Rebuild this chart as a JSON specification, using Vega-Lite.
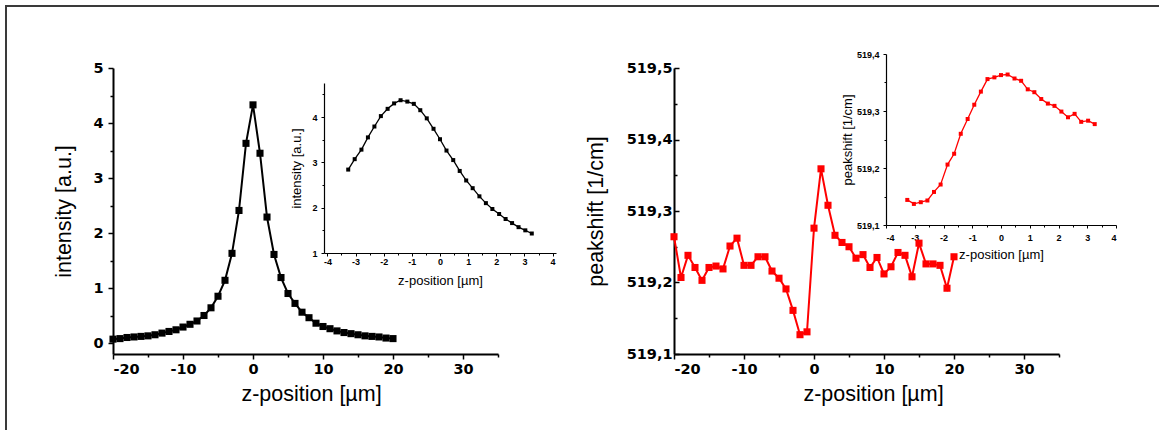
{
  "$schema": "https://vega.github.io/schema/vega-lite/v6.json",
  "width": 1160,
  "height": 430,
  "autosize": {"type": "none"},
  "padding": {"left": 6, "top": 6, "right": 0, "bottom": 0},
  "background": "#ffffff",
  "config": {
    "view": {"stroke": "#3a3a3a", "strokeWidth": 2},
    "font": "Liberation Sans",
    "axis": {"grid": false, "domainColor": "#000000", "tickColor": "#000000", "labelColor": "#000000", "titleColor": "#000000", "labelFont": "Liberation Sans", "titleFont": "Liberation Sans", "labelFontWeight": "bold", "titleFontWeight": "normal"}
  },
  "datasets": {
    "mainL": [
      {"z": -20, "v": 0.07}, {"z": -19, "v": 0.08}, {"z": -18, "v": 0.10}, {"z": -17, "v": 0.11}, {"z": -16, "v": 0.12},
      {"z": -15, "v": 0.13}, {"z": -14, "v": 0.15}, {"z": -13, "v": 0.18}, {"z": -12, "v": 0.21}, {"z": -11, "v": 0.24},
      {"z": -10, "v": 0.29}, {"z": -9, "v": 0.34}, {"z": -8, "v": 0.40}, {"z": -7, "v": 0.50}, {"z": -6, "v": 0.64},
      {"z": -5, "v": 0.85}, {"z": -4, "v": 1.14}, {"z": -3, "v": 1.63}, {"z": -2, "v": 2.41}, {"z": -1, "v": 3.63},
      {"z": 0, "v": 4.33}, {"z": 1, "v": 3.45}, {"z": 2, "v": 2.29}, {"z": 3, "v": 1.61}, {"z": 4, "v": 1.19},
      {"z": 5, "v": 0.90}, {"z": 6, "v": 0.72}, {"z": 7, "v": 0.56}, {"z": 8, "v": 0.46}, {"z": 9, "v": 0.36},
      {"z": 10, "v": 0.30}, {"z": 11, "v": 0.26}, {"z": 12, "v": 0.22}, {"z": 13, "v": 0.19}, {"z": 14, "v": 0.17},
      {"z": 15, "v": 0.15}, {"z": 16, "v": 0.13}, {"z": 17, "v": 0.12}, {"z": 18, "v": 0.11}, {"z": 19, "v": 0.09},
      {"z": 20, "v": 0.08}
    ],
    "insetL": [
      {"z": -3.26, "v": 2.84}, {"z": -3.03, "v": 3.07}, {"z": -2.79, "v": 3.28}, {"z": -2.56, "v": 3.55}, {"z": -2.33, "v": 3.79},
      {"z": -2.10, "v": 4.02}, {"z": -1.86, "v": 4.18}, {"z": -1.63, "v": 4.30}, {"z": -1.40, "v": 4.37}, {"z": -1.16, "v": 4.34},
      {"z": -0.93, "v": 4.29}, {"z": -0.70, "v": 4.15}, {"z": -0.47, "v": 3.97}, {"z": -0.23, "v": 3.74}, {"z": 0.00, "v": 3.51},
      {"z": 0.23, "v": 3.26}, {"z": 0.47, "v": 3.05}, {"z": 0.70, "v": 2.81}, {"z": 0.93, "v": 2.60}, {"z": 1.16, "v": 2.43},
      {"z": 1.40, "v": 2.25}, {"z": 1.63, "v": 2.10}, {"z": 1.86, "v": 1.97}, {"z": 2.10, "v": 1.86}, {"z": 2.33, "v": 1.75},
      {"z": 2.56, "v": 1.66}, {"z": 2.79, "v": 1.57}, {"z": 3.03, "v": 1.50}, {"z": 3.26, "v": 1.43}
    ],
    "mainR": [
      {"z": -20, "v": 519.264}, {"z": -19, "v": 519.207}, {"z": -18, "v": 519.238}, {"z": -17, "v": 519.221}, {"z": -16, "v": 519.203},
      {"z": -15, "v": 519.221}, {"z": -14, "v": 519.223}, {"z": -13, "v": 519.219}, {"z": -12, "v": 519.251}, {"z": -11, "v": 519.262},
      {"z": -10, "v": 519.224}, {"z": -9, "v": 519.224}, {"z": -8, "v": 519.236}, {"z": -7, "v": 519.236}, {"z": -6, "v": 519.216},
      {"z": -5, "v": 519.206}, {"z": -4, "v": 519.191}, {"z": -3, "v": 519.161}, {"z": -2, "v": 519.127}, {"z": -1, "v": 519.131},
      {"z": 0, "v": 519.276}, {"z": 1, "v": 519.359}, {"z": 2, "v": 519.308}, {"z": 3, "v": 519.266}, {"z": 4, "v": 519.256},
      {"z": 5, "v": 519.250}, {"z": 6, "v": 519.234}, {"z": 7, "v": 519.239}, {"z": 8, "v": 519.221}, {"z": 9, "v": 519.235},
      {"z": 10, "v": 519.212}, {"z": 11, "v": 519.222}, {"z": 12, "v": 519.242}, {"z": 13, "v": 519.238}, {"z": 14, "v": 519.208},
      {"z": 15, "v": 519.255}, {"z": 16, "v": 519.226}, {"z": 17, "v": 519.226}, {"z": 18, "v": 519.224}, {"z": 19, "v": 519.192},
      {"z": 20, "v": 519.236}
    ],
    "insetR": [
      {"z": -3.26, "v": 519.144}, {"z": -3.03, "v": 519.137}, {"z": -2.79, "v": 519.140}, {"z": -2.56, "v": 519.143}, {"z": -2.33, "v": 519.158},
      {"z": -2.10, "v": 519.171}, {"z": -1.86, "v": 519.206}, {"z": -1.63, "v": 519.225}, {"z": -1.40, "v": 519.260}, {"z": -1.16, "v": 519.286},
      {"z": -0.93, "v": 519.311}, {"z": -0.70, "v": 519.334}, {"z": -0.47, "v": 519.356}, {"z": -0.23, "v": 519.359}, {"z": 0.00, "v": 519.363},
      {"z": 0.23, "v": 519.364}, {"z": 0.47, "v": 519.357}, {"z": 0.70, "v": 519.353}, {"z": 0.93, "v": 519.338}, {"z": 1.16, "v": 519.333},
      {"z": 1.40, "v": 519.321}, {"z": 1.63, "v": 519.313}, {"z": 1.86, "v": 519.309}, {"z": 2.10, "v": 519.299}, {"z": 2.33, "v": 519.289},
      {"z": 2.56, "v": 519.295}, {"z": 2.79, "v": 519.281}, {"z": 3.03, "v": 519.283}, {"z": 3.26, "v": 519.277}
    ]
  },
  "layer": [
    {
      "data": {"name": "mainL"},
      "mark": {"type": "line", "color": "#000000", "strokeWidth": 2, "point": {"shape": "square", "filled": true, "color": "#000000", "size": 50, "opacity": 1}},
      "encoding": {
        "x": {"field": "z", "type": "quantitative",
          "scale": {"domain": [-20, 35], "range": [107, 492], "nice": false, "zero": false},
          "axis": {"orient": "bottom", "offset": -82, "title": "z-position [µm]", "titleFontSize": 21.5, "titlePadding": 8, "titleX": 305,
            "labelFont": "DejaVu Sans", "labelFontSize": 14.5, "labelPadding": 3, "domainWidth": 2, "tickWidth": 1.5,
            "values": [-20, -15, -10, -5, 0, 5, 10, 15, 20, 25, 30, 35],
            "tickSize": {"condition": {"test": "datum.value % 10 != 0", "value": 3}, "value": 5},
            "labelExpr": "datum.value % 10 == 0 ? '' + datum.value : ''"}},
        "y": {"field": "v", "type": "quantitative",
          "scale": {"domain": [-0.2, 5], "range": [348, 62], "nice": false, "zero": false},
          "axis": {"orient": "left", "offset": -107, "title": "intensity [a.u.]", "titleFontSize": 21.5, "titlePadding": 17,
            "labelFont": "DejaVu Sans", "labelFontSize": 14.5, "labelPadding": 5, "domainWidth": 2, "tickWidth": 1.5,
            "values": [0, 0.5, 1, 1.5, 2, 2.5, 3, 3.5, 4, 4.5, 5],
            "tickSize": {"condition": {"test": "datum.value % 1 != 0", "value": 3}, "value": 5},
            "labelExpr": "datum.value % 1 == 0 ? '' + datum.value : ''"}}
      }
    },
    {
      "data": {"name": "insetL"},
      "mark": {"type": "line", "color": "#000000", "strokeWidth": 1.3, "point": {"shape": "square", "filled": true, "color": "#000000", "size": 16, "opacity": 1}},
      "encoding": {
        "x": {"field": "z", "type": "quantitative",
          "scale": {"domain": [-4.12, 4.12], "range": [318, 550], "nice": false, "zero": false},
          "axis": {"orient": "bottom", "offset": -183, "title": "z-position [µm]", "titleFontSize": 13, "titlePadding": 8,
            "labelFontSize": 9, "labelPadding": 1, "domainWidth": 1.2, "tickWidth": 1,
            "values": [-4, -3.5, -3, -2.5, -2, -1.5, -1, -0.5, 0, 0.5, 1, 1.5, 2, 2.5, 3, 3.5, 4],
            "tickSize": {"condition": {"test": "datum.value % 1 != 0", "value": 2}, "value": 3},
            "labelExpr": "datum.value % 1 == 0 ? '' + datum.value : ''"}},
        "y": {"field": "v", "type": "quantitative",
          "scale": {"domain": [1, 4.75], "range": [247, 77], "nice": false, "zero": false},
          "axis": {"orient": "left", "offset": -318, "title": "intensity [a.u.]", "titleFontSize": 13, "titlePadding": 8,
            "labelFontSize": 9, "labelPadding": 4, "domainWidth": 1.2, "tickWidth": 1,
            "values": [1, 1.5, 2, 2.5, 3, 3.5, 4, 4.5],
            "tickSize": {"condition": {"test": "datum.value % 1 != 0", "value": 2}, "value": 3},
            "labelExpr": "datum.value % 1 == 0 ? '' + datum.value : ''"}}
      }
    },
    {
      "data": {"name": "mainR"},
      "mark": {"type": "line", "color": "#ff0000", "strokeWidth": 2, "point": {"shape": "square", "filled": true, "color": "#ff0000", "size": 50, "opacity": 1}},
      "encoding": {
        "x": {"field": "z", "type": "quantitative",
          "scale": {"domain": [-20, 35], "range": [668, 1053], "nice": false, "zero": false},
          "axis": {"orient": "bottom", "offset": -82, "title": "z-position [µm]", "titleFontSize": 21.5, "titlePadding": 8, "titleX": 867,
            "labelFont": "DejaVu Sans", "labelFontSize": 14.5, "labelPadding": 3, "domainWidth": 2, "tickWidth": 1.5,
            "values": [-20, -15, -10, -5, 0, 5, 10, 15, 20, 25, 30, 35],
            "tickSize": {"condition": {"test": "datum.value % 10 != 0", "value": 3}, "value": 5},
            "labelExpr": "datum.value % 10 == 0 ? '' + datum.value : ''"}},
        "y": {"field": "v", "type": "quantitative",
          "scale": {"domain": [519.1, 519.5], "range": [348, 62], "nice": false, "zero": false},
          "axis": {"orient": "left", "offset": -668, "title": "peakshift [1/cm]", "titleFontSize": 21.5, "titlePadding": 19,
            "labelFont": "DejaVu Sans", "labelFontSize": 14.5, "labelPadding": 7, "domainWidth": 2, "tickWidth": 1.5,
            "values": [519.1, 519.15, 519.2, 519.25, 519.3, 519.35, 519.4, 519.45, 519.5],
            "tickSize": {"condition": {"test": "round(datum.value * 20) % 2 != 0", "value": -3}, "value": -5},
            "labelExpr": "round(datum.value * 20) % 2 == 0 ? replace(format(datum.value, '.1f'), '.', ',') : ''"}}
      }
    },
    {
      "data": {"name": "insetR"},
      "mark": {"type": "line", "color": "#ff0000", "strokeWidth": 1.3, "point": {"shape": "square", "filled": true, "color": "#ff0000", "size": 16, "opacity": 1}},
      "encoding": {
        "x": {"field": "z", "type": "quantitative",
          "scale": {"domain": [-4, 4], "range": [880, 1110], "nice": false, "zero": false},
          "axis": {"orient": "bottom", "offset": -211, "title": "z-position [µm]", "titleFontSize": 13, "titlePadding": 6,
            "labelFontSize": 9, "labelPadding": 5, "domainWidth": 1.2, "tickWidth": 1,
            "values": [-4, -3.5, -3, -2.5, -2, -1.5, -1, -0.5, 0, 0.5, 1, 1.5, 2, 2.5, 3, 3.5, 4],
            "tickSize": {"condition": {"test": "datum.value % 1 != 0", "value": 2}, "value": 3},
            "labelExpr": "datum.value % 1 == 0 ? '' + datum.value : ''"}},
        "y": {"field": "v", "type": "quantitative",
          "scale": {"domain": [519.1, 519.4], "range": [219, 48], "nice": false, "zero": false},
          "axis": {"orient": "left", "offset": -880, "title": "peakshift [1/cm]", "titleFontSize": 13, "titlePadding": 2,
            "labelFontSize": 9, "labelPadding": 4, "domainWidth": 1.2, "tickWidth": 1,
            "values": [519.1, 519.15, 519.2, 519.25, 519.3, 519.35, 519.4],
            "tickSize": {"condition": {"test": "round(datum.value * 20) % 2 != 0", "value": 2}, "value": 3},
            "labelExpr": "round(datum.value * 20) % 2 == 0 ? replace(format(datum.value, '.1f'), '.', ',') : ''"}}
      }
    }
  ],
  "resolve": {"scale": {"x": "independent", "y": "independent"}, "axis": {"x": "independent", "y": "independent"}}
}
